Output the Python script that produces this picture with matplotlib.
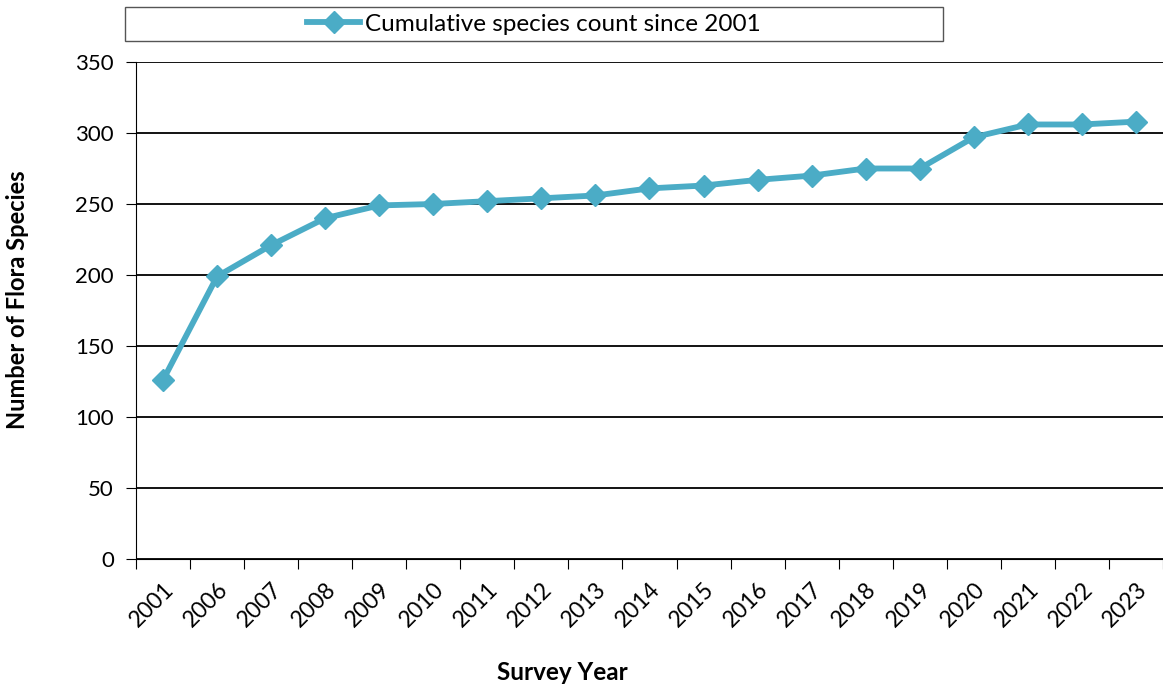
import matplotlib.pyplot as plt
from matplotlib.patches import Rectangle
import numpy as np

years = ["2001", "2006", "2007", "2008", "2009", "2010", "2011", "2012", "2013", "2014",
         "2015", "2016", "2017", "2018", "2019", "2020", "2021", "2022", "2023"]
species = [126, 199, 221, 240, 249, 250, 252, 254, 256, 261,
           263, 267, 270, 275, 275, 297, 306, 306, 308]
y_ticks = [0, 50, 100, 150, 200, 250, 300, 350]

W, H = 1163, 685
plt.rcParams["font.family"] = ["Lato", "DejaVu Sans"]

fig = plt.figure(figsize=(W / 100, H / 100), dpi=100)
ax = fig.add_axes([136 / W, 1 - 559 / H, (1163 - 136) / W, (559 - 62) / H])

x = np.arange(len(years))
line, = ax.plot(x, species, color="#4BACC6", linewidth=4.2, marker="D", markersize=11,
                label="Cumulative species count since 2001", zorder=3)

ax.set_xlim(-0.5, len(years) - 0.5)
ax.set_ylim(0, 350)
ax.set_yticks(y_ticks)
ax.yaxis.grid(True, color="black", linewidth=1.3)
ax.set_axisbelow(True)

# ticks at category boundaries, labels in the middle
ax.set_xticks(np.arange(len(years) + 1) - 0.5)
ax.set_xticklabels([])
ax.set_xticks(x, minor=True)
ax.set_xticklabels(years, minor=True, rotation=45, ha="right", rotation_mode="anchor", fontsize=16.5)
ax.tick_params(axis="x", which="minor", length=0, pad=14)
ax.tick_params(axis="x", which="major", length=7, direction="out", color="black")
ax.tick_params(axis="y", length=7, direction="out", labelsize=16, pad=9)

for s in ["top", "right"]:
    ax.spines[s].set_visible(False)
ax.spines["left"].set_color("black")
ax.spines["bottom"].set_color("black")

fig.text(18 / W, 1 - 300 / H, "Number of Flora Species", rotation=90, ha="center", va="center",
         fontsize=17, fontweight="bold")
fig.text(562 / W, 1 - 672 / H, "Survey Year", ha="center", va="center",
         fontsize=17.5, fontweight="bold")

# legend box
fig.patches.append(Rectangle((125 / W, 1 - 41 / H), 818 / W, 34 / H, transform=fig.transFigure,
                             facecolor="white", edgecolor="#555555", linewidth=1))
fig.legend(handles=[line], loc="center", bbox_to_anchor=(534 / W, 1 - 24 / H), frameon=False,
           fontsize=17.5, handlelength=2.2, handletextpad=0.2, borderaxespad=0)

fig.savefig("out.png", dpi=100)
